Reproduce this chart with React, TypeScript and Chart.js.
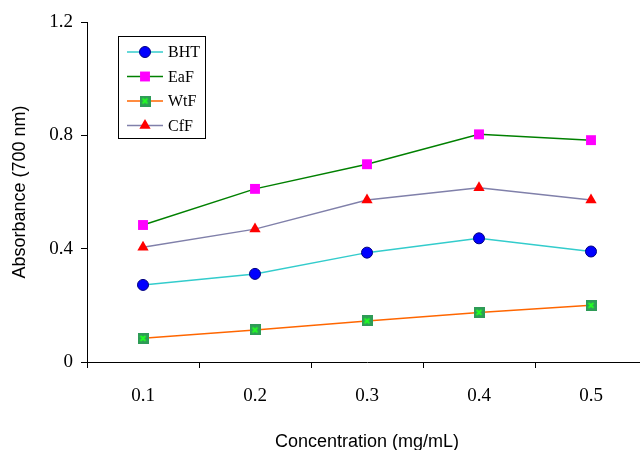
import React, { useEffect, useRef } from "react";
import { Chart, registerables } from "chart.js";
import { drawPoint } from "chart.js/helpers";

Chart.register(...registerables);

const categories = ["0.1", "0.2", "0.3", "0.4", "0.5"];
const yTickValues = [0, 0.4, 0.8, 1.2];
const bht = [0.272, 0.311, 0.386, 0.4365, 0.39];
const eaf = [0.4835, 0.611, 0.698, 0.8035, 0.783];
const wtf = [0.0835, 0.113, 0.145, 0.175, 0.2];
const cff = [0.405, 0.469, 0.572, 0.615, 0.572];
const seriesNames = ["BHT", "EaF", "WtF", "CfF"];

function makeWtfMarker(): HTMLCanvasElement {
  const c = document.createElement("canvas");
  c.width = 11;
  c.height = 11;
  const g = c.getContext("2d")!;
  g.fillStyle = "#2E9B57";
  g.fillRect(0, 0, 11, 11);
  g.strokeStyle = "#22FF22";
  g.lineWidth = 2;
  g.beginPath();
  g.moveTo(3, 3);
  g.lineTo(8, 8);
  g.moveTo(8, 3);
  g.lineTo(3, 8);
  g.stroke();
  return c;
}

const legendPlugin = {
  id: "boxLegend",
  afterDraw(chart: any) {
    const ctx = chart.ctx;
    ctx.save();
    ctx.fillStyle = "#ffffff";
    ctx.fillRect(118.5, 36.5, 87, 102);
    ctx.strokeStyle = "#000000";
    ctx.lineWidth = 1;
    ctx.strokeRect(118.5, 36.5, 87, 102);
    const ys = [52, 76.5, 101, 125.5];
    chart.data.datasets.forEach((ds: any, i: number) => {
      const y = ys[i];
      ctx.strokeStyle = ds.borderColor;
      ctx.lineWidth = 1.5;
      ctx.beginPath();
      ctx.moveTo(127, y);
      ctx.lineTo(163, y);
      ctx.stroke();
      ctx.fillStyle = ds.pointBackgroundColor;
      ctx.strokeStyle = ds.pointBorderColor;
      ctx.lineWidth = ds.pointBorderWidth;
      drawPoint(ctx, { pointStyle: ds.pointStyle, radius: ds.pointRadius, borderWidth: ds.pointBorderWidth, rotation: 0 }, 145, y);
      ctx.fillStyle = "#000000";
      ctx.font = "16px 'Liberation Serif'";
      ctx.textBaseline = "middle";
      ctx.textAlign = "left";
      ctx.fillText(ds.label, 168, y + 1);
    });
    ctx.restore();
  },
};

export default function App() {
  const ref = useRef<HTMLCanvasElement>(null);
  useEffect(() => {
    document.body.style.margin = "0";
    const wtfMarker = makeWtfMarker();
    const chart = new Chart(ref.current!, {
      type: "line",
      data: {
        labels: categories,
        datasets: [
          {
            label: seriesNames[0],
            data: bht,
            borderColor: "#33CCCC",
            borderWidth: 1.5,
            pointStyle: "circle",
            pointRadius: 5.5,
            pointBackgroundColor: "#0000FF",
            pointBorderColor: "#000080",
            pointBorderWidth: 1,
          },
          {
            label: seriesNames[1],
            data: eaf,
            borderColor: "#008000",
            borderWidth: 1.5,
            pointStyle: "rect",
            pointRadius: 7,
            pointBackgroundColor: "#FF00FF",
            pointBorderColor: "#FF00FF",
            pointBorderWidth: 0,
          },
          {
            label: seriesNames[2],
            data: wtf,
            borderColor: "#FF6600",
            borderWidth: 1.5,
            pointStyle: wtfMarker as any,
            pointRadius: 5.5,
            pointBackgroundColor: "#2E9B57",
            pointBorderColor: "#2E9B57",
            pointBorderWidth: 0,
          },
          {
            label: seriesNames[3],
            data: cff,
            borderColor: "#8080AA",
            borderWidth: 1.5,
            pointStyle: "triangle",
            pointRadius: 6.5,
            pointBackgroundColor: "#FF0000",
            pointBorderColor: "#FF0000",
            pointBorderWidth: 0,
          },
        ],
      },
      options: {
        animation: false,
        responsive: false,
        layout: { autoPadding: false, padding: { top: 22, right: 0, left: 0, bottom: 0 } },
        plugins: { legend: { display: false }, tooltip: { enabled: false } },
        scales: {
          x: {
            type: "category",
            position: "bottom",
            offset: true,
            afterFit: (scale: any) => {
              scale.height = 88;
              scale.paddingLeft = 0;
              scale.paddingRight = 0;
            },
            border: { display: true, color: "#000000", width: 1 },
            grid: {
              offset: true,
              drawOnChartArea: false,
              drawTicks: true,
              tickLength: 6,
              tickColor: "#000000",
            },
            ticks: {
              autoSkip: false,
              maxRotation: 0,
              padding: 17,
              color: "#000000",
              font: { family: "'Liberation Serif'", size: 19 },
            },
            title: {
              display: true,
              text: "Concentration (mg/mL)",
              color: "#000000",
              font: { family: "'Liberation Sans'", size: 18 },
              padding: { top: 0, bottom: -3 },
            },
          },
          y: {
            type: "linear",
            min: 0,
            max: 1.2,
            afterBuildTicks: (scale: any) => {
              scale.ticks = yTickValues.map((v) => ({ value: v }));
            },
            afterFit: (scale: any) => {
              scale.width = 87;
            },
            border: { display: true, color: "#000000", width: 1 },
            grid: { drawOnChartArea: false, tickLength: 6, tickColor: "#000000" },
            ticks: {
              padding: 8,
              color: "#000000",
              font: { family: "'Liberation Serif'", size: 19 },
              callback: (v: any) => (Number(v) === 0 ? "0" : Number(v).toFixed(1)),
            },
            title: {
              display: true,
              text: "Absorbance (700 nm)",
              color: "#000000",
              font: { family: "'Liberation Sans'", size: 18 },
              padding: { top: 9, bottom: 0 },
            },
          },
        },
      },
      plugins: [legendPlugin],
    });
    return () => chart.destroy();
  }, []);
  return (
    <div style={{ position: "absolute", left: 0, top: 0, width: 640, height: 450, overflow: "hidden", background: "#fff" }}>
      <canvas ref={ref} width={647} height={450} style={{ display: "block" }} />
    </div>
  );
}
